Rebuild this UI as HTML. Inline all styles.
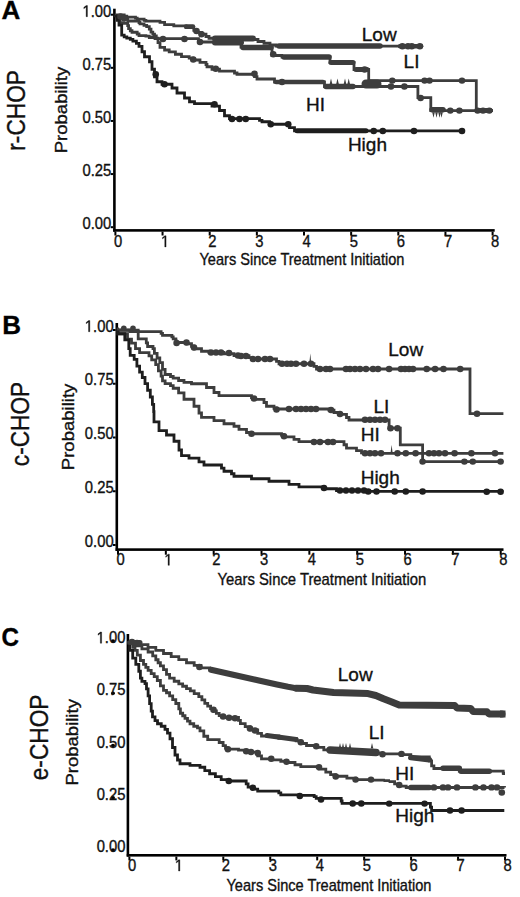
<!DOCTYPE html>
<html><head><meta charset="utf-8"><style>
html,body{margin:0;padding:0;background:#fff;}
svg{display:block;}
text{font-family:"Liberation Sans", sans-serif;stroke:#111;stroke-width:0.35px;}
</style></head><body>
<svg width="520" height="897" viewBox="0 0 520 897">
<rect width="520" height="897" fill="#fff"/>
<rect x="113.10" y="8.70" width="2.60" height="223.00" fill="#000"/>
<rect x="113.25" y="229.10" width="381.45" height="2.60" fill="#000"/>
<rect x="110.70" y="226.20" width="2.55" height="2.00" fill="#000"/>
<text transform="translate(111.20,229.20) scale(0.913,1)" font-size="16.2" text-anchor="end" font-weight="normal" fill="#111">0.00</text>
<rect x="110.70" y="173.07" width="2.55" height="2.00" fill="#000"/>
<text transform="translate(111.20,176.07) scale(0.913,1)" font-size="16.2" text-anchor="end" font-weight="normal" fill="#111">0.25</text>
<rect x="110.70" y="119.95" width="2.55" height="2.00" fill="#000"/>
<text transform="translate(111.20,122.95) scale(0.913,1)" font-size="16.2" text-anchor="end" font-weight="normal" fill="#111">0.50</text>
<rect x="110.70" y="66.82" width="2.55" height="2.00" fill="#000"/>
<text transform="translate(111.20,69.82) scale(0.913,1)" font-size="16.2" text-anchor="end" font-weight="normal" fill="#111">0.75</text>
<rect x="110.70" y="13.70" width="2.55" height="2.00" fill="#000"/>
<text transform="translate(111.20,16.70) scale(0.913,1)" font-size="16.2" text-anchor="end" font-weight="normal" fill="#111">&#8199;.00</text>
<path transform="translate(82.41,16.70) scale(0.00722,-0.00791)" d="M515 0V1237L197 1010V1180L530 1409H696V0Z" fill="#111" stroke="#111" stroke-width="0.35" vector-effect="non-scaling-stroke"/>
<rect x="114.40" y="231.70" width="2.00" height="3.80" fill="#000"/>
<text transform="translate(118.00,246.90) scale(0.913,1)" font-size="16.2" text-anchor="middle" font-weight="normal" fill="#111">0</text>
<rect x="161.55" y="231.70" width="2.00" height="3.80" fill="#000"/>
<path transform="translate(161.04,246.90) scale(0.00722,-0.00791)" d="M515 0V1237L197 1010V1180L530 1409H696V0Z" fill="#111" stroke="#111" stroke-width="0.35" vector-effect="non-scaling-stroke"/>
<rect x="208.70" y="231.70" width="2.00" height="3.80" fill="#000"/>
<text transform="translate(212.30,246.90) scale(0.913,1)" font-size="16.2" text-anchor="middle" font-weight="normal" fill="#111">2</text>
<rect x="255.85" y="231.70" width="2.00" height="3.80" fill="#000"/>
<text transform="translate(259.45,246.90) scale(0.913,1)" font-size="16.2" text-anchor="middle" font-weight="normal" fill="#111">3</text>
<rect x="303.00" y="231.70" width="2.00" height="3.80" fill="#000"/>
<text transform="translate(306.60,246.90) scale(0.913,1)" font-size="16.2" text-anchor="middle" font-weight="normal" fill="#111">4</text>
<rect x="350.15" y="231.70" width="2.00" height="3.80" fill="#000"/>
<text transform="translate(353.75,246.90) scale(0.913,1)" font-size="16.2" text-anchor="middle" font-weight="normal" fill="#111">5</text>
<rect x="397.30" y="231.70" width="2.00" height="3.80" fill="#000"/>
<text transform="translate(400.90,246.90) scale(0.913,1)" font-size="16.2" text-anchor="middle" font-weight="normal" fill="#111">6</text>
<rect x="444.45" y="231.70" width="2.00" height="3.80" fill="#000"/>
<text transform="translate(448.05,246.90) scale(0.913,1)" font-size="16.2" text-anchor="middle" font-weight="normal" fill="#111">7</text>
<rect x="491.60" y="231.70" width="2.00" height="3.80" fill="#000"/>
<text transform="translate(495.20,246.90) scale(0.913,1)" font-size="16.2" text-anchor="middle" font-weight="normal" fill="#111">8</text>
<text transform="translate(199.50,264.90) scale(0.916,1)" font-size="15.9" text-anchor="start" font-weight="normal" fill="#111">Years Since Treatment Initiation</text>
<rect x="115.50" y="323.00" width="2.60" height="227.90" fill="#000"/>
<rect x="115.65" y="548.30" width="387.85" height="2.60" fill="#000"/>
<rect x="113.00" y="544.00" width="2.65" height="2.00" fill="#000"/>
<text transform="translate(113.60,546.70) scale(0.913,1)" font-size="16.2" text-anchor="end" font-weight="normal" fill="#111">0.00</text>
<rect x="113.00" y="490.25" width="2.65" height="2.00" fill="#000"/>
<text transform="translate(113.60,492.95) scale(0.913,1)" font-size="16.2" text-anchor="end" font-weight="normal" fill="#111">0.25</text>
<rect x="113.00" y="436.50" width="2.65" height="2.00" fill="#000"/>
<text transform="translate(113.60,439.20) scale(0.913,1)" font-size="16.2" text-anchor="end" font-weight="normal" fill="#111">0.50</text>
<rect x="113.00" y="382.75" width="2.65" height="2.00" fill="#000"/>
<text transform="translate(113.60,385.45) scale(0.913,1)" font-size="16.2" text-anchor="end" font-weight="normal" fill="#111">0.75</text>
<rect x="113.00" y="329.00" width="2.65" height="2.00" fill="#000"/>
<text transform="translate(113.60,331.70) scale(0.913,1)" font-size="16.2" text-anchor="end" font-weight="normal" fill="#111">&#8199;.00</text>
<path transform="translate(84.81,331.70) scale(0.00722,-0.00791)" d="M515 0V1237L197 1010V1180L530 1409H696V0Z" fill="#111" stroke="#111" stroke-width="0.35" vector-effect="non-scaling-stroke"/>
<rect x="117.00" y="550.90" width="2.00" height="3.80" fill="#000"/>
<text transform="translate(120.60,565.30) scale(0.913,1)" font-size="16.2" text-anchor="middle" font-weight="normal" fill="#111">0</text>
<rect x="164.84" y="550.90" width="2.00" height="3.80" fill="#000"/>
<path transform="translate(164.33,565.30) scale(0.00722,-0.00791)" d="M515 0V1237L197 1010V1180L530 1409H696V0Z" fill="#111" stroke="#111" stroke-width="0.35" vector-effect="non-scaling-stroke"/>
<rect x="212.68" y="550.90" width="2.00" height="3.80" fill="#000"/>
<text transform="translate(216.28,565.30) scale(0.913,1)" font-size="16.2" text-anchor="middle" font-weight="normal" fill="#111">2</text>
<rect x="260.52" y="550.90" width="2.00" height="3.80" fill="#000"/>
<text transform="translate(264.12,565.30) scale(0.913,1)" font-size="16.2" text-anchor="middle" font-weight="normal" fill="#111">3</text>
<rect x="308.36" y="550.90" width="2.00" height="3.80" fill="#000"/>
<text transform="translate(311.96,565.30) scale(0.913,1)" font-size="16.2" text-anchor="middle" font-weight="normal" fill="#111">4</text>
<rect x="356.20" y="550.90" width="2.00" height="3.80" fill="#000"/>
<text transform="translate(359.80,565.30) scale(0.913,1)" font-size="16.2" text-anchor="middle" font-weight="normal" fill="#111">5</text>
<rect x="404.04" y="550.90" width="2.00" height="3.80" fill="#000"/>
<text transform="translate(407.64,565.30) scale(0.913,1)" font-size="16.2" text-anchor="middle" font-weight="normal" fill="#111">6</text>
<rect x="451.88" y="550.90" width="2.00" height="3.80" fill="#000"/>
<text transform="translate(455.48,565.30) scale(0.913,1)" font-size="16.2" text-anchor="middle" font-weight="normal" fill="#111">7</text>
<rect x="499.72" y="550.90" width="2.00" height="3.80" fill="#000"/>
<text transform="translate(503.32,565.30) scale(0.913,1)" font-size="16.2" text-anchor="middle" font-weight="normal" fill="#111">8</text>
<text transform="translate(217.50,585.00) scale(0.933,1)" font-size="15.9" text-anchor="start" font-weight="normal" fill="#111">Years Since Treatment Initiation</text>
<rect x="126.60" y="634.00" width="2.60" height="222.60" fill="#000"/>
<rect x="126.75" y="854.00" width="379.75" height="2.60" fill="#000"/>
<ellipse cx="113.00" cy="850.00" rx="2.0" ry="1.7" fill="#000"/>
<text transform="translate(125.40,852.20) scale(0.913,1)" font-size="16.2" text-anchor="end" font-weight="normal" fill="#111">0.00</text>
<ellipse cx="113.00" cy="797.75" rx="2.0" ry="1.7" fill="#000"/>
<text transform="translate(125.40,799.95) scale(0.913,1)" font-size="16.2" text-anchor="end" font-weight="normal" fill="#111">0.25</text>
<ellipse cx="113.00" cy="745.50" rx="2.0" ry="1.7" fill="#000"/>
<text transform="translate(125.40,747.70) scale(0.913,1)" font-size="16.2" text-anchor="end" font-weight="normal" fill="#111">0.50</text>
<ellipse cx="113.00" cy="693.25" rx="2.0" ry="1.7" fill="#000"/>
<text transform="translate(125.40,695.45) scale(0.913,1)" font-size="16.2" text-anchor="end" font-weight="normal" fill="#111">0.75</text>
<ellipse cx="113.00" cy="641.00" rx="2.0" ry="1.7" fill="#000"/>
<text transform="translate(125.40,643.20) scale(0.913,1)" font-size="16.2" text-anchor="end" font-weight="normal" fill="#111">&#8199;.00</text>
<path transform="translate(96.61,643.20) scale(0.00722,-0.00791)" d="M515 0V1237L197 1010V1180L530 1409H696V0Z" fill="#111" stroke="#111" stroke-width="0.35" vector-effect="non-scaling-stroke"/>
<rect x="128.40" y="856.60" width="2.00" height="3.80" fill="#000"/>
<text transform="translate(132.00,871.00) scale(0.913,1)" font-size="16.2" text-anchor="middle" font-weight="normal" fill="#111">0</text>
<rect x="175.35" y="856.60" width="2.00" height="3.80" fill="#000"/>
<path transform="translate(174.84,871.00) scale(0.00722,-0.00791)" d="M515 0V1237L197 1010V1180L530 1409H696V0Z" fill="#111" stroke="#111" stroke-width="0.35" vector-effect="non-scaling-stroke"/>
<rect x="222.30" y="856.60" width="2.00" height="3.80" fill="#000"/>
<text transform="translate(225.90,871.00) scale(0.913,1)" font-size="16.2" text-anchor="middle" font-weight="normal" fill="#111">2</text>
<rect x="269.25" y="856.60" width="2.00" height="3.80" fill="#000"/>
<text transform="translate(272.85,871.00) scale(0.913,1)" font-size="16.2" text-anchor="middle" font-weight="normal" fill="#111">3</text>
<rect x="316.20" y="856.60" width="2.00" height="3.80" fill="#000"/>
<text transform="translate(319.80,871.00) scale(0.913,1)" font-size="16.2" text-anchor="middle" font-weight="normal" fill="#111">4</text>
<rect x="363.15" y="856.60" width="2.00" height="3.80" fill="#000"/>
<text transform="translate(366.75,871.00) scale(0.913,1)" font-size="16.2" text-anchor="middle" font-weight="normal" fill="#111">5</text>
<rect x="410.10" y="856.60" width="2.00" height="3.80" fill="#000"/>
<text transform="translate(413.70,871.00) scale(0.913,1)" font-size="16.2" text-anchor="middle" font-weight="normal" fill="#111">6</text>
<rect x="457.05" y="856.60" width="2.00" height="3.80" fill="#000"/>
<text transform="translate(460.65,871.00) scale(0.913,1)" font-size="16.2" text-anchor="middle" font-weight="normal" fill="#111">7</text>
<rect x="504.00" y="856.60" width="2.00" height="3.80" fill="#000"/>
<text transform="translate(507.60,871.00) scale(0.913,1)" font-size="16.2" text-anchor="middle" font-weight="normal" fill="#111">8</text>
<text transform="translate(226.50,891.00) scale(0.916,1)" font-size="15.9" text-anchor="start" font-weight="normal" fill="#111">Years Since Treatment Initiation</text>
<text transform="translate(1.50,18.75)" font-size="26" text-anchor="start" font-weight="bold" fill="#000">A</text>
<text transform="translate(2.20,334.20)" font-size="26" text-anchor="start" font-weight="bold" fill="#000">B</text>
<text transform="translate(1.40,645.60) scale(0.930,1)" font-size="26" text-anchor="start" font-weight="bold" fill="#000">C</text>
<text transform="translate(25.10,150.70) rotate(-90) scale(0.857,1)" font-size="26.5" text-anchor="start" font-weight="normal" fill="#111">r-CHOP</text>
<text transform="translate(28.90,466.20) rotate(-90) scale(0.857,1)" font-size="26.5" text-anchor="start" font-weight="normal" fill="#111">c-CHOP</text>
<text transform="translate(47.80,780.30) rotate(-90) scale(0.857,1)" font-size="26.5" text-anchor="start" font-weight="normal" fill="#111">e-CHOP</text>
<text transform="translate(66.70,153.30) rotate(-90) scale(1.065,1)" font-size="17.4" text-anchor="start" font-weight="normal" fill="#111">Probability</text>
<text transform="translate(73.90,470.20) rotate(-90) scale(1.065,1)" font-size="17.4" text-anchor="start" font-weight="normal" fill="#111">Probability</text>
<text transform="translate(78.10,785.60) rotate(-90) scale(1.065,1)" font-size="17.4" text-anchor="start" font-weight="normal" fill="#111">Probability</text>
<text transform="translate(361.78,40.80)" font-size="19.0" text-anchor="start" font-weight="normal" fill="#111">Low</text>
<text transform="translate(403.58,68.30)" font-size="19.0" text-anchor="start" font-weight="normal" fill="#111">LI</text>
<text transform="translate(306.08,111.20)" font-size="19.0" text-anchor="start" font-weight="normal" fill="#111">HI</text>
<text transform="translate(347.88,150.60)" font-size="19.0" text-anchor="start" font-weight="normal" fill="#111">High</text>
<text transform="translate(388.28,355.60)" font-size="19.0" text-anchor="start" font-weight="normal" fill="#111">Low</text>
<text transform="translate(373.48,412.50)" font-size="19.0" text-anchor="start" font-weight="normal" fill="#111">LI</text>
<text transform="translate(360.68,441.00)" font-size="19.0" text-anchor="start" font-weight="normal" fill="#111">HI</text>
<text transform="translate(360.68,484.00)" font-size="19.0" text-anchor="start" font-weight="normal" fill="#111">High</text>
<text transform="translate(337.78,680.80)" font-size="19.0" text-anchor="start" font-weight="normal" fill="#111">Low</text>
<text transform="translate(368.68,739.00)" font-size="19.0" text-anchor="start" font-weight="normal" fill="#111">LI</text>
<text transform="translate(395.28,780.00)" font-size="19.0" text-anchor="start" font-weight="normal" fill="#111">HI</text>
<text transform="translate(395.28,822.00)" font-size="19.0" text-anchor="start" font-weight="normal" fill="#111">High</text>
<polyline points="116.00,15.00 116.00,14.90 116.50,14.90 116.50,14.80 116.50,15.00 124.20,15.00 124.20,15.20 124.20,16.05 126.80,16.05 126.80,16.90 126.80,17.15 135.50,17.15 135.50,17.40 135.50,18.05 137.20,18.05 137.20,18.70 137.20,19.10 144.10,19.10 144.10,19.50 144.10,20.35 145.90,20.35 145.90,21.20 160.00,21.20 160.00,22.35 164.60,22.35 164.60,23.50 164.60,24.65 173.80,24.65 173.80,25.80 186.00,25.80 186.00,27.70 193.80,27.70 193.80,29.60 193.80,30.40 196.90,30.40 196.90,31.20 196.90,32.35 201.50,32.35 201.50,33.50 201.50,34.25 206.00,34.25 206.00,35.00 206.00,36.50 209.00,36.50 209.00,38.00 209.00,38.25 253.00,38.25 253.00,38.50 253.00,39.50 258.00,39.50 258.00,40.50 258.00,41.50 264.00,41.50 264.00,42.50 264.00,43.25 270.00,43.25 270.00,44.00 270.00,45.00 276.00,45.00 276.00,46.00 276.00,46.10 421.70,46.10 421.70,46.20" fill="none" stroke="#3d3d3d" stroke-width="2.8" stroke-linejoin="miter" stroke-linecap="butt"/>
<ellipse cx="196.50" cy="31.00" rx="3.3" ry="3.2" fill="#3d3d3d"/>
<ellipse cx="201.50" cy="34.20" rx="3.3" ry="3.2" fill="#3d3d3d"/>
<ellipse cx="402.40" cy="46.20" rx="3.3" ry="3.2" fill="#3d3d3d"/>
<ellipse cx="408.00" cy="46.20" rx="3.3" ry="3.2" fill="#3d3d3d"/>
<ellipse cx="411.80" cy="46.20" rx="3.3" ry="3.2" fill="#3d3d3d"/>
<ellipse cx="419.90" cy="46.20" rx="3.3" ry="3.2" fill="#3d3d3d"/>
<polyline points="116.00,15.00 116.00,15.95 117.30,15.95 117.30,16.90 117.30,19.50 119.90,19.50 119.90,22.10 119.90,22.55 124.20,22.55 124.20,23.00 124.20,23.40 127.70,23.40 127.70,23.80 127.70,25.55 128.60,25.55 128.60,27.30 128.60,28.60 130.30,28.60 130.30,29.90 130.30,30.75 132.00,30.75 132.00,31.60 132.00,32.25 137.20,32.25 137.20,32.90 137.20,34.00 139.00,34.00 139.00,35.10 139.00,35.55 145.90,35.55 145.90,36.00 145.90,36.20 149.30,36.20 149.30,36.40 149.30,37.50 155.00,37.50 155.00,38.60 155.00,38.70 198.50,38.70 198.50,38.80 198.50,40.40 200.00,40.40 200.00,42.00 241.00,42.00 241.00,47.00 272.00,47.00 272.00,54.00 272.00,55.50 282.00,55.50 282.00,57.00 330.00,57.00 330.00,62.50 354.00,62.50 354.00,69.50 368.70,69.50 368.70,80.60 476.30,80.60 476.30,110.60 493.00,110.60" fill="none" stroke="#3d3d3d" stroke-width="2.8" stroke-linejoin="miter" stroke-linecap="butt"/>
<ellipse cx="163.00" cy="39.00" rx="3.3" ry="3.2" fill="#3d3d3d"/>
<ellipse cx="184.50" cy="39.00" rx="3.3" ry="3.2" fill="#3d3d3d"/>
<ellipse cx="200.00" cy="42.00" rx="3.3" ry="3.2" fill="#3d3d3d"/>
<ellipse cx="273.25" cy="54.25" rx="3.3" ry="3.2" fill="#3d3d3d"/>
<ellipse cx="364.60" cy="69.50" rx="3.3" ry="3.2" fill="#3d3d3d"/>
<ellipse cx="392.30" cy="80.60" rx="3.3" ry="3.2" fill="#3d3d3d"/>
<ellipse cx="424.60" cy="80.60" rx="3.3" ry="3.2" fill="#3d3d3d"/>
<ellipse cx="429.50" cy="80.60" rx="3.3" ry="3.2" fill="#3d3d3d"/>
<ellipse cx="462.00" cy="80.60" rx="3.3" ry="3.2" fill="#3d3d3d"/>
<ellipse cx="477.60" cy="110.60" rx="3.3" ry="3.2" fill="#3d3d3d"/>
<ellipse cx="483.00" cy="110.60" rx="3.3" ry="3.2" fill="#3d3d3d"/>
<ellipse cx="489.30" cy="110.60" rx="3.3" ry="3.2" fill="#3d3d3d"/>
<polyline points="116.00,15.00 116.00,15.50 116.50,15.50 116.50,16.00 116.50,17.35 126.00,17.35 126.00,18.70 126.00,19.35 127.70,19.35 127.70,20.00 127.70,21.00 139.00,21.00 139.00,22.00 139.00,22.50 140.00,22.50 140.00,23.00 140.00,23.85 144.00,23.85 144.00,24.70 144.00,25.35 146.70,25.35 146.70,26.00 146.70,26.65 149.30,26.65 149.30,27.30 149.30,29.05 151.00,29.05 151.00,30.80 151.00,32.10 152.80,32.10 152.80,33.40 152.80,34.25 154.50,34.25 154.50,35.10 154.50,35.95 156.30,35.95 156.30,36.80 156.30,38.10 158.00,38.10 158.00,39.40 158.00,42.60 160.00,42.60 160.00,45.80 160.00,47.30 164.60,47.30 164.60,48.80 164.60,50.00 169.20,50.00 169.20,51.20 169.20,51.95 175.40,51.95 175.40,52.70 175.40,54.25 181.50,54.25 181.50,55.80 181.50,56.55 189.20,56.55 189.20,57.30 189.20,58.05 193.00,58.05 193.00,58.80 193.00,60.00 200.00,60.00 200.00,61.20 200.00,62.35 206.00,62.35 206.00,63.50 206.00,64.50 207.00,64.50 207.00,65.50 207.00,66.75 212.00,66.75 212.00,68.00 212.00,69.25 219.50,69.25 219.50,70.50 219.50,71.12 234.50,71.12 234.50,71.75 234.50,73.00 237.00,73.00 237.00,74.25 254.50,74.25 254.50,76.62 257.00,76.62 257.00,79.00 274.50,79.00 274.50,82.00 324.50,82.00 324.50,86.50 417.90,86.50 417.90,97.60 430.80,97.60 430.80,110.60 493.00,110.60" fill="none" stroke="#3d3d3d" stroke-width="2.8" stroke-linejoin="miter" stroke-linecap="butt"/>
<ellipse cx="193.25" cy="59.50" rx="3.3" ry="3.2" fill="#3d3d3d"/>
<ellipse cx="215.75" cy="68.75" rx="3.3" ry="3.2" fill="#3d3d3d"/>
<ellipse cx="254.50" cy="73.80" rx="3.3" ry="3.2" fill="#3d3d3d"/>
<ellipse cx="282.00" cy="82.00" rx="3.3" ry="3.2" fill="#3d3d3d"/>
<ellipse cx="391.00" cy="86.50" rx="3.3" ry="3.2" fill="#3d3d3d"/>
<ellipse cx="404.40" cy="86.50" rx="3.3" ry="3.2" fill="#3d3d3d"/>
<ellipse cx="420.60" cy="98.00" rx="3.3" ry="3.2" fill="#3d3d3d"/>
<ellipse cx="450.30" cy="110.60" rx="3.3" ry="3.2" fill="#3d3d3d"/>
<ellipse cx="459.40" cy="110.60" rx="3.3" ry="3.2" fill="#3d3d3d"/>
<polyline points="116.00,15.00 116.00,15.95 117.30,15.95 117.30,16.90 117.30,20.35 119.00,20.35 119.00,23.80 119.00,25.10 121.70,25.10 121.70,26.40 121.70,34.20 121.70,35.10 124.20,35.10 124.20,36.00 124.20,36.85 126.80,36.85 126.80,37.70 126.80,38.10 130.30,38.10 130.30,38.50 130.30,39.40 132.90,39.40 132.90,40.30 132.90,41.15 136.40,41.15 136.40,42.00 136.40,43.30 139.00,43.30 139.00,44.60 139.00,46.30 142.00,46.30 142.00,48.00 142.00,51.75 144.50,51.75 144.50,55.50 144.50,56.75 149.50,56.75 149.50,58.00 149.50,61.75 152.00,61.75 152.00,65.50 152.00,69.25 154.50,69.25 154.50,73.00 154.50,76.75 157.00,76.75 157.00,80.50 157.00,81.75 162.00,81.75 162.00,83.00 162.00,84.25 172.00,84.25 172.00,85.50 172.00,88.00 177.00,88.00 177.00,90.50 177.00,93.00 184.50,93.00 184.50,95.50 184.50,98.00 189.50,98.00 189.50,100.50 189.50,101.75 194.50,101.75 194.50,103.00 194.50,103.62 212.00,103.62 212.00,104.25 212.00,106.12 219.50,106.12 219.50,108.00 219.50,110.50 224.50,110.50 224.50,113.00 224.50,115.75 229.50,115.75 229.50,118.50 229.50,118.65 259.50,118.65 259.50,118.80 259.50,120.28 262.00,120.28 262.00,121.75 269.50,121.75 269.50,123.00 270.00,123.00 270.00,124.25 289.50,124.25 289.50,127.53 294.50,127.53 294.50,130.80 294.50,130.90 462.00,130.90 462.00,131.00" fill="none" stroke="#1e1e1e" stroke-width="2.8" stroke-linejoin="miter" stroke-linecap="butt"/>
<ellipse cx="155.75" cy="74.25" rx="3.3" ry="3.2" fill="#1e1e1e"/>
<ellipse cx="164.50" cy="84.25" rx="3.3" ry="3.2" fill="#1e1e1e"/>
<ellipse cx="214.50" cy="104.25" rx="3.3" ry="3.2" fill="#1e1e1e"/>
<ellipse cx="232.00" cy="119.00" rx="3.3" ry="3.2" fill="#1e1e1e"/>
<ellipse cx="239.50" cy="119.00" rx="3.3" ry="3.2" fill="#1e1e1e"/>
<ellipse cx="245.75" cy="119.00" rx="3.3" ry="3.2" fill="#1e1e1e"/>
<ellipse cx="270.75" cy="124.20" rx="3.3" ry="3.2" fill="#1e1e1e"/>
<ellipse cx="288.25" cy="124.25" rx="3.3" ry="3.2" fill="#1e1e1e"/>
<ellipse cx="373.70" cy="131.00" rx="3.3" ry="3.2" fill="#1e1e1e"/>
<ellipse cx="382.80" cy="131.00" rx="3.3" ry="3.2" fill="#1e1e1e"/>
<ellipse cx="414.00" cy="131.00" rx="3.3" ry="3.2" fill="#1e1e1e"/>
<ellipse cx="462.00" cy="131.00" rx="3.3" ry="3.2" fill="#1e1e1e"/>
<line x1="186.00" y1="26.50" x2="193.00" y2="26.50" stroke="#3d3d3d" stroke-width="4.5" stroke-linecap="round"/>
<line x1="215.00" y1="38.50" x2="253.00" y2="38.50" stroke="#3d3d3d" stroke-width="6.0" stroke-linecap="round"/>
<line x1="215.00" y1="42.50" x2="241.00" y2="42.50" stroke="#3d3d3d" stroke-width="6.0" stroke-linecap="round"/>
<line x1="243.00" y1="47.50" x2="271.00" y2="47.50" stroke="#3d3d3d" stroke-width="5.5" stroke-linecap="round"/>
<line x1="279.00" y1="46.00" x2="380.00" y2="46.00" stroke="#3d3d3d" stroke-width="5.5" stroke-linecap="round"/>
<line x1="400.00" y1="46.20" x2="421.00" y2="46.20" stroke="#3d3d3d" stroke-width="4.5" stroke-linecap="round"/>
<line x1="284.00" y1="57.00" x2="329.00" y2="57.00" stroke="#3d3d3d" stroke-width="5.5" stroke-linecap="round"/>
<line x1="331.00" y1="62.50" x2="353.00" y2="62.50" stroke="#3d3d3d" stroke-width="5.0" stroke-linecap="round"/>
<line x1="356.00" y1="69.50" x2="367.00" y2="69.50" stroke="#3d3d3d" stroke-width="5.0" stroke-linecap="round"/>
<line x1="276.00" y1="82.00" x2="323.00" y2="82.00" stroke="#3d3d3d" stroke-width="4.5" stroke-linecap="round"/>
<line x1="326.00" y1="86.50" x2="353.00" y2="86.50" stroke="#3d3d3d" stroke-width="5.5" stroke-linecap="round"/>
<line x1="366.00" y1="84.00" x2="377.00" y2="84.00" stroke="#3d3d3d" stroke-width="9.0" stroke-linecap="round"/>
<polygon points="329.70,84.00 331.00,78.50 332.30,84.00" fill="#3d3d3d"/>
<polygon points="336.20,84.00 337.50,78.50 338.80,84.00" fill="#3d3d3d"/>
<polygon points="343.70,84.00 345.00,78.50 346.30,84.00" fill="#3d3d3d"/>
<polygon points="347.40,84.00 348.70,78.50 350.00,84.00" fill="#3d3d3d"/>
<line x1="432.00" y1="109.80" x2="443.00" y2="109.80" stroke="#3d3d3d" stroke-width="5.5" stroke-linecap="round"/>
<polygon points="432.20,112.30 433.50,117.80 434.80,112.30" fill="#3d3d3d"/>
<polygon points="435.20,112.30 436.50,117.80 437.80,112.30" fill="#3d3d3d"/>
<polygon points="438.20,112.30 439.50,117.80 440.80,112.30" fill="#3d3d3d"/>
<polygon points="440.20,112.30 441.50,117.80 442.80,112.30" fill="#3d3d3d"/>
<line x1="479.00" y1="110.60" x2="490.00" y2="110.60" stroke="#3d3d3d" stroke-width="5.0" stroke-linecap="round"/>
<line x1="297.00" y1="130.80" x2="366.00" y2="130.80" stroke="#1e1e1e" stroke-width="5.0" stroke-linecap="round"/>
<polyline points="118.00,329.00 118.00,328.88 119.00,328.88 119.00,328.75 119.00,330.23 138.20,330.23 138.20,331.70 161.10,331.70 161.10,333.40 162.50,333.40 162.50,335.10 162.50,335.45 171.90,335.45 171.90,335.80 171.90,336.80 173.20,336.80 173.20,337.80 173.20,338.80 175.90,338.80 175.90,339.80 175.90,341.15 176.60,341.15 176.60,342.50 186.50,342.50 186.50,343.75 191.50,343.75 191.50,345.00 191.50,346.25 194.00,346.25 194.00,347.50 194.00,348.75 201.50,348.75 201.50,350.00 201.50,351.25 209.00,351.25 209.00,352.50 224.00,352.50 224.00,353.75 234.00,353.75 234.00,355.00 234.00,355.62 249.00,355.62 249.00,356.25 249.00,357.62 251.50,357.62 251.50,359.00 276.50,359.00 276.50,361.38 279.00,361.38 279.00,363.75 314.00,363.75 314.00,366.38 316.50,366.38 316.50,369.00 470.00,369.00 470.00,413.70 503.40,413.70" fill="none" stroke="#3d3d3d" stroke-width="2.8" stroke-linejoin="miter" stroke-linecap="butt"/>
<ellipse cx="176.60" cy="343.00" rx="3.3" ry="3.2" fill="#3d3d3d"/>
<ellipse cx="186.50" cy="342.50" rx="3.3" ry="3.2" fill="#3d3d3d"/>
<ellipse cx="194.00" cy="347.50" rx="3.3" ry="3.2" fill="#3d3d3d"/>
<ellipse cx="211.00" cy="352.50" rx="3.3" ry="3.2" fill="#3d3d3d"/>
<ellipse cx="216.00" cy="352.50" rx="3.3" ry="3.2" fill="#3d3d3d"/>
<ellipse cx="221.00" cy="352.50" rx="3.3" ry="3.2" fill="#3d3d3d"/>
<ellipse cx="229.00" cy="353.00" rx="3.3" ry="3.2" fill="#3d3d3d"/>
<ellipse cx="238.00" cy="355.50" rx="3.3" ry="3.2" fill="#3d3d3d"/>
<ellipse cx="241.00" cy="356.00" rx="3.3" ry="3.2" fill="#3d3d3d"/>
<ellipse cx="246.00" cy="356.00" rx="3.3" ry="3.2" fill="#3d3d3d"/>
<ellipse cx="253.00" cy="359.00" rx="3.3" ry="3.2" fill="#3d3d3d"/>
<ellipse cx="258.00" cy="359.00" rx="3.3" ry="3.2" fill="#3d3d3d"/>
<ellipse cx="265.00" cy="359.00" rx="3.3" ry="3.2" fill="#3d3d3d"/>
<ellipse cx="270.00" cy="359.00" rx="3.3" ry="3.2" fill="#3d3d3d"/>
<ellipse cx="282.00" cy="363.70" rx="3.3" ry="3.2" fill="#3d3d3d"/>
<ellipse cx="287.00" cy="363.70" rx="3.3" ry="3.2" fill="#3d3d3d"/>
<ellipse cx="291.00" cy="363.70" rx="3.3" ry="3.2" fill="#3d3d3d"/>
<ellipse cx="296.00" cy="363.70" rx="3.3" ry="3.2" fill="#3d3d3d"/>
<ellipse cx="304.00" cy="363.70" rx="3.3" ry="3.2" fill="#3d3d3d"/>
<ellipse cx="311.00" cy="363.70" rx="3.3" ry="3.2" fill="#3d3d3d"/>
<ellipse cx="320.00" cy="369.00" rx="3.3" ry="3.2" fill="#3d3d3d"/>
<ellipse cx="326.00" cy="369.00" rx="3.3" ry="3.2" fill="#3d3d3d"/>
<ellipse cx="330.00" cy="369.00" rx="3.3" ry="3.2" fill="#3d3d3d"/>
<ellipse cx="346.00" cy="369.00" rx="3.3" ry="3.2" fill="#3d3d3d"/>
<ellipse cx="350.00" cy="369.00" rx="3.3" ry="3.2" fill="#3d3d3d"/>
<ellipse cx="355.00" cy="369.00" rx="3.3" ry="3.2" fill="#3d3d3d"/>
<ellipse cx="360.00" cy="369.00" rx="3.3" ry="3.2" fill="#3d3d3d"/>
<ellipse cx="366.00" cy="369.00" rx="3.3" ry="3.2" fill="#3d3d3d"/>
<ellipse cx="373.00" cy="369.00" rx="3.3" ry="3.2" fill="#3d3d3d"/>
<ellipse cx="378.00" cy="369.00" rx="3.3" ry="3.2" fill="#3d3d3d"/>
<ellipse cx="389.10" cy="369.00" rx="3.3" ry="3.2" fill="#3d3d3d"/>
<ellipse cx="401.00" cy="369.00" rx="3.3" ry="3.2" fill="#3d3d3d"/>
<ellipse cx="405.00" cy="369.00" rx="3.3" ry="3.2" fill="#3d3d3d"/>
<ellipse cx="409.00" cy="369.00" rx="3.3" ry="3.2" fill="#3d3d3d"/>
<ellipse cx="413.00" cy="369.00" rx="3.3" ry="3.2" fill="#3d3d3d"/>
<ellipse cx="426.70" cy="369.00" rx="3.3" ry="3.2" fill="#3d3d3d"/>
<ellipse cx="435.10" cy="369.00" rx="3.3" ry="3.2" fill="#3d3d3d"/>
<ellipse cx="443.50" cy="369.00" rx="3.3" ry="3.2" fill="#3d3d3d"/>
<ellipse cx="460.20" cy="369.00" rx="3.3" ry="3.2" fill="#3d3d3d"/>
<ellipse cx="477.00" cy="413.70" rx="3.3" ry="3.2" fill="#3d3d3d"/>
<polyline points="118.00,329.00 118.00,330.00 130.00,330.00 130.00,331.00 130.00,331.50 138.20,331.50 138.20,332.00 138.20,338.50 138.20,338.80 146.30,338.80 146.30,339.10 146.30,342.80 147.60,342.80 147.60,346.50 153.00,346.50 153.00,348.55 154.40,348.55 154.40,350.60 154.40,353.30 157.10,353.30 157.10,356.00 157.10,358.00 159.80,358.00 159.80,360.00 159.80,362.70 162.50,362.70 162.50,365.40 162.50,369.45 165.10,369.45 165.10,373.50 165.10,374.50 170.50,374.50 170.50,375.50 170.50,376.50 173.20,376.50 173.20,377.50 173.20,378.15 178.60,378.15 178.60,378.80 178.60,380.50 184.00,380.50 184.00,382.20 184.00,382.35 191.50,382.35 191.50,382.50 191.50,383.75 206.50,383.75 206.50,385.00 206.50,387.50 214.00,387.50 214.00,390.00 214.00,392.50 219.00,392.50 219.00,395.00 219.00,395.62 251.50,395.62 251.50,396.25 251.50,397.50 254.00,397.50 254.00,398.75 254.00,399.38 264.00,399.38 264.00,400.00 264.00,402.50 266.50,402.50 266.50,405.00 266.50,406.25 274.00,406.25 274.00,407.50 274.00,408.25 276.50,408.25 276.50,409.00 329.00,409.00 329.00,410.12 334.00,410.12 334.00,411.25 334.00,412.50 339.00,412.50 339.00,413.75 339.00,414.38 346.50,414.38 346.50,415.00 346.50,417.50 349.00,417.50 349.00,420.00 389.10,420.00 389.10,428.20 400.30,428.20 400.30,444.90 422.60,444.90 422.60,461.60 500.60,461.60" fill="none" stroke="#3d3d3d" stroke-width="2.8" stroke-linejoin="miter" stroke-linecap="butt"/>
<ellipse cx="254.00" cy="398.50" rx="3.3" ry="3.2" fill="#3d3d3d"/>
<ellipse cx="276.50" cy="409.50" rx="3.3" ry="3.2" fill="#3d3d3d"/>
<ellipse cx="289.00" cy="409.00" rx="3.3" ry="3.2" fill="#3d3d3d"/>
<ellipse cx="296.00" cy="409.00" rx="3.3" ry="3.2" fill="#3d3d3d"/>
<ellipse cx="301.00" cy="409.00" rx="3.3" ry="3.2" fill="#3d3d3d"/>
<ellipse cx="306.00" cy="409.00" rx="3.3" ry="3.2" fill="#3d3d3d"/>
<ellipse cx="311.00" cy="409.00" rx="3.3" ry="3.2" fill="#3d3d3d"/>
<ellipse cx="316.00" cy="409.00" rx="3.3" ry="3.2" fill="#3d3d3d"/>
<ellipse cx="331.00" cy="410.00" rx="3.3" ry="3.2" fill="#3d3d3d"/>
<ellipse cx="340.00" cy="414.00" rx="3.3" ry="3.2" fill="#3d3d3d"/>
<ellipse cx="365.00" cy="419.80" rx="3.3" ry="3.2" fill="#3d3d3d"/>
<ellipse cx="370.00" cy="419.80" rx="3.3" ry="3.2" fill="#3d3d3d"/>
<ellipse cx="375.00" cy="419.80" rx="3.3" ry="3.2" fill="#3d3d3d"/>
<ellipse cx="380.00" cy="419.80" rx="3.3" ry="3.2" fill="#3d3d3d"/>
<ellipse cx="385.00" cy="419.80" rx="3.3" ry="3.2" fill="#3d3d3d"/>
<ellipse cx="390.50" cy="428.20" rx="3.3" ry="3.2" fill="#3d3d3d"/>
<ellipse cx="397.50" cy="428.20" rx="3.3" ry="3.2" fill="#3d3d3d"/>
<ellipse cx="422.60" cy="461.60" rx="3.3" ry="3.2" fill="#3d3d3d"/>
<ellipse cx="464.40" cy="461.60" rx="3.3" ry="3.2" fill="#3d3d3d"/>
<ellipse cx="472.80" cy="461.60" rx="3.3" ry="3.2" fill="#3d3d3d"/>
<ellipse cx="500.60" cy="461.60" rx="3.3" ry="3.2" fill="#3d3d3d"/>
<polyline points="118.00,330.40 118.00,333.75 127.50,333.75 127.50,337.10 127.50,339.15 131.50,339.15 131.50,341.20 131.50,343.20 135.50,343.20 135.50,345.20 135.50,348.55 139.60,348.55 139.60,351.90 139.60,352.60 149.00,352.60 149.00,353.30 149.00,355.95 151.70,355.95 151.70,358.60 151.70,359.95 155.70,359.95 155.70,361.30 155.70,364.70 158.40,364.70 158.40,368.10 158.40,370.80 161.10,370.80 161.10,373.50 161.10,376.15 162.50,376.15 162.50,378.80 162.50,380.85 165.10,380.85 165.10,382.90 165.10,383.55 170.50,383.55 170.50,384.20 170.50,385.55 173.20,385.55 173.20,386.90 173.20,388.25 178.60,388.25 178.60,389.60 178.60,392.80 184.00,392.80 184.00,396.00 184.00,399.25 194.00,399.25 194.00,402.50 194.00,406.25 199.00,406.25 199.00,410.00 199.00,413.00 201.50,413.00 201.50,416.00 201.50,417.38 214.00,417.38 214.00,418.75 214.00,420.62 224.00,420.62 224.00,422.50 224.00,423.75 234.00,423.75 234.00,425.00 234.00,426.25 239.00,426.25 239.00,427.50 239.00,429.38 246.50,429.38 246.50,431.25 246.50,432.50 251.50,432.50 251.50,433.75 281.50,433.75 281.50,435.00 284.00,435.00 284.00,436.25 284.00,436.88 294.00,436.88 294.00,437.50 294.00,439.38 299.00,439.38 299.00,441.25 299.00,441.62 344.00,441.62 344.00,442.00 344.00,444.75 346.50,444.75 346.50,447.50 346.50,448.12 356.50,448.12 356.50,448.75 356.50,450.62 361.50,450.62 361.50,452.50 361.50,452.90 369.00,452.90 369.00,453.30 503.40,453.30" fill="none" stroke="#3d3d3d" stroke-width="2.8" stroke-linejoin="miter" stroke-linecap="butt"/>
<ellipse cx="251.50" cy="433.75" rx="3.3" ry="3.2" fill="#3d3d3d"/>
<ellipse cx="284.00" cy="436.25" rx="3.3" ry="3.2" fill="#3d3d3d"/>
<ellipse cx="314.00" cy="442.00" rx="3.3" ry="3.2" fill="#3d3d3d"/>
<ellipse cx="320.00" cy="442.00" rx="3.3" ry="3.2" fill="#3d3d3d"/>
<ellipse cx="328.00" cy="442.00" rx="3.3" ry="3.2" fill="#3d3d3d"/>
<ellipse cx="333.00" cy="442.00" rx="3.3" ry="3.2" fill="#3d3d3d"/>
<ellipse cx="365.00" cy="453.30" rx="3.3" ry="3.2" fill="#3d3d3d"/>
<ellipse cx="370.00" cy="453.30" rx="3.3" ry="3.2" fill="#3d3d3d"/>
<ellipse cx="375.00" cy="453.30" rx="3.3" ry="3.2" fill="#3d3d3d"/>
<ellipse cx="381.00" cy="453.30" rx="3.3" ry="3.2" fill="#3d3d3d"/>
<ellipse cx="397.50" cy="453.30" rx="3.3" ry="3.2" fill="#3d3d3d"/>
<ellipse cx="405.80" cy="453.30" rx="3.3" ry="3.2" fill="#3d3d3d"/>
<ellipse cx="415.60" cy="453.30" rx="3.3" ry="3.2" fill="#3d3d3d"/>
<ellipse cx="429.00" cy="453.30" rx="3.3" ry="3.2" fill="#3d3d3d"/>
<ellipse cx="434.00" cy="453.30" rx="3.3" ry="3.2" fill="#3d3d3d"/>
<ellipse cx="439.00" cy="453.30" rx="3.3" ry="3.2" fill="#3d3d3d"/>
<ellipse cx="445.00" cy="453.30" rx="3.3" ry="3.2" fill="#3d3d3d"/>
<ellipse cx="454.60" cy="453.30" rx="3.3" ry="3.2" fill="#3d3d3d"/>
<ellipse cx="471.40" cy="453.30" rx="3.3" ry="3.2" fill="#3d3d3d"/>
<ellipse cx="495.00" cy="453.30" rx="3.3" ry="3.2" fill="#3d3d3d"/>
<polyline points="118.00,330.40 118.00,333.75 124.80,333.75 124.80,337.10 124.80,339.80 128.80,339.80 128.80,342.50 128.80,348.55 130.20,348.55 130.20,354.60 130.20,355.30 134.20,355.30 134.20,356.00 134.20,359.35 136.90,359.35 136.90,362.70 136.90,366.05 139.60,366.05 139.60,369.40 139.60,372.10 142.30,372.10 142.30,374.80 142.30,377.50 145.00,377.50 145.00,380.20 145.00,383.55 147.60,383.55 147.60,386.90 147.60,390.25 150.30,390.25 150.30,393.60 150.30,397.00 152.40,397.00 152.40,400.40 152.40,404.40 153.70,404.40 153.70,408.40 153.70,411.70 154.00,411.70 154.00,415.00 154.00,421.88 159.00,421.88 159.00,428.75 159.00,430.62 166.50,430.62 166.50,432.50 166.50,435.00 174.00,435.00 174.00,437.50 174.00,441.25 179.00,441.25 179.00,445.00 179.00,450.00 181.50,450.00 181.50,455.00 181.50,455.62 189.00,455.62 189.00,456.25 189.00,458.12 199.00,458.12 199.00,460.00 199.00,461.88 204.00,461.88 204.00,463.75 204.00,465.00 221.50,465.00 221.50,466.25 221.50,468.12 224.00,468.12 224.00,470.00 224.00,471.25 231.50,471.25 231.50,472.50 231.50,473.75 234.00,473.75 234.00,475.00 234.00,476.25 251.50,476.25 251.50,477.50 251.50,478.75 269.00,478.75 269.00,480.00 269.00,481.25 289.00,481.25 289.00,482.50 289.00,484.38 299.00,484.38 299.00,486.25 299.00,486.88 324.00,486.88 324.00,487.50 324.00,488.75 336.50,488.75 336.50,490.00 336.50,490.50 369.00,490.50 369.00,491.00 369.00,491.40 502.00,491.40 502.00,491.80" fill="none" stroke="#1e1e1e" stroke-width="2.8" stroke-linejoin="miter" stroke-linecap="butt"/>
<ellipse cx="324.00" cy="488.00" rx="3.3" ry="3.2" fill="#1e1e1e"/>
<ellipse cx="340.00" cy="490.50" rx="3.3" ry="3.2" fill="#1e1e1e"/>
<ellipse cx="346.00" cy="490.50" rx="3.3" ry="3.2" fill="#1e1e1e"/>
<ellipse cx="352.00" cy="490.50" rx="3.3" ry="3.2" fill="#1e1e1e"/>
<ellipse cx="358.00" cy="490.50" rx="3.3" ry="3.2" fill="#1e1e1e"/>
<ellipse cx="364.00" cy="490.50" rx="3.3" ry="3.2" fill="#1e1e1e"/>
<ellipse cx="368.20" cy="491.50" rx="3.3" ry="3.2" fill="#1e1e1e"/>
<ellipse cx="376.50" cy="491.50" rx="3.3" ry="3.2" fill="#1e1e1e"/>
<ellipse cx="394.70" cy="491.50" rx="3.3" ry="3.2" fill="#1e1e1e"/>
<ellipse cx="405.80" cy="491.50" rx="3.3" ry="3.2" fill="#1e1e1e"/>
<ellipse cx="422.60" cy="491.50" rx="3.3" ry="3.2" fill="#1e1e1e"/>
<ellipse cx="486.70" cy="491.80" rx="3.3" ry="3.2" fill="#1e1e1e"/>
<ellipse cx="500.60" cy="491.80" rx="3.3" ry="3.2" fill="#1e1e1e"/>
<polyline points="129.00,641.00 129.00,641.25 131.00,641.25 131.00,641.50 131.00,642.50 140.40,642.50 140.40,643.50 140.40,644.65 148.00,644.65 148.00,645.80 148.00,647.35 155.80,647.35 155.80,648.90 155.80,650.45 163.50,650.45 163.50,652.00 163.50,653.50 171.20,653.50 171.20,655.00 171.20,656.60 178.80,656.60 178.80,658.20 178.80,659.70 186.50,659.70 186.50,661.20 186.50,662.75 194.20,662.75 194.20,664.30 194.20,665.40 201.00,665.40 201.00,666.50 201.00,667.95 209.60,667.95 209.60,669.40" fill="none" stroke="#3d3d3d" stroke-width="2.8" stroke-linejoin="miter" stroke-linecap="butt"/>
<ellipse cx="199.40" cy="667.00" rx="3.3" ry="3.2" fill="#3d3d3d"/>
<polyline points="211.00,669.80 257.70,680.20 276.90,684.50 288.00,686.80 296.00,688.20" fill="none" stroke="#3d3d3d" stroke-width="6.0" stroke-linejoin="round" stroke-linecap="round"/>
<polyline points="296.00,688.20 307.00,688.50 313.00,690.00 333.50,692.40 368.00,693.60 375.80,695.50 383.50,698.80 391.20,701.70 399.20,705.00 454.70,705.50 457.00,708.00 470.80,708.50 473.00,711.50 487.00,711.80 489.00,714.00 502.00,714.00" fill="none" stroke="#3d3d3d" stroke-width="7.0" stroke-linejoin="round" stroke-linecap="round"/>
<rect x="500" y="710.5" width="5.5" height="7" fill="#3d3d3d"/>
<polyline points="129.00,641.00 129.00,642.65 134.20,642.65 134.20,644.30 134.20,645.85 141.90,645.85 141.90,647.40 141.90,648.95 148.10,648.95 148.10,650.50 148.10,652.00 152.70,652.00 152.70,653.50 152.70,655.85 155.80,655.85 155.80,658.20 155.80,659.73 158.10,659.73 158.10,662.77 160.40,662.77 160.40,664.30 160.40,665.85 163.50,665.85 163.50,667.40 163.50,669.70 166.50,669.70 166.50,672.00 166.50,674.30 169.60,674.30 169.60,676.60 169.60,678.15 174.20,678.15 174.20,679.70 174.20,681.25 178.80,681.25 178.80,682.80 178.80,683.95 182.65,683.95 182.65,686.25 186.50,686.25 186.50,687.40 186.50,688.55 190.35,688.55 190.35,690.85 194.20,690.85 194.20,692.00 194.20,693.55 198.80,693.55 198.80,695.10 198.80,696.65 201.90,696.65 201.90,698.20 201.90,699.90 204.80,699.90 204.80,703.30 207.70,703.30 207.70,705.00 207.70,706.20 210.60,706.20 210.60,708.60 213.50,708.60 213.50,709.80 213.50,711.00 216.35,711.00 216.35,713.40 219.20,713.40 219.20,714.60 219.20,715.55 223.10,715.55 223.10,716.50 223.10,717.50 238.50,717.50 238.50,718.50 238.50,720.40 240.40,720.40 240.40,722.30 240.40,723.72 245.20,723.72 245.20,726.58 250.00,726.58 250.00,728.00 250.00,729.95 257.70,729.95 257.70,731.90 257.70,733.35 261.50,733.35 261.50,734.80 261.50,736.00 278.85,736.00 278.85,738.40 296.20,738.40 296.20,739.60 296.20,740.80 300.80,740.80 300.80,742.00 300.80,743.50 306.50,743.50 306.50,745.00 306.50,745.50 316.20,745.50 316.20,746.00 316.20,747.40 323.80,747.40 323.80,748.80 323.80,749.90 350.00,749.90 350.00,751.00 350.00,751.75 375.80,751.75 375.80,752.50 375.80,753.20 382.50,753.20 382.50,753.90 401.50,753.90 401.50,754.70 410.80,754.70 410.80,755.50 410.80,757.00 429.30,757.00 429.30,758.50 429.30,760.80 431.60,760.80 431.60,763.10 431.60,765.80 433.90,765.80 433.90,768.50 459.30,768.50 459.30,771.20 503.20,771.20 503.20,773.10 503.60,773.10 503.60,775.00" fill="none" stroke="#3d3d3d" stroke-width="2.8" stroke-linejoin="miter" stroke-linecap="butt"/>
<ellipse cx="300.80" cy="742.30" rx="3.3" ry="3.2" fill="#3d3d3d"/>
<ellipse cx="316.20" cy="746.20" rx="3.3" ry="3.2" fill="#3d3d3d"/>
<ellipse cx="213.50" cy="709.80" rx="3.3" ry="3.2" fill="#3d3d3d"/>
<ellipse cx="223.10" cy="716.50" rx="3.3" ry="3.2" fill="#3d3d3d"/>
<ellipse cx="229.00" cy="717.80" rx="3.3" ry="3.2" fill="#3d3d3d"/>
<ellipse cx="235.00" cy="718.20" rx="3.3" ry="3.2" fill="#3d3d3d"/>
<ellipse cx="250.00" cy="728.50" rx="3.3" ry="3.2" fill="#3d3d3d"/>
<ellipse cx="255.00" cy="730.50" rx="3.3" ry="3.2" fill="#3d3d3d"/>
<ellipse cx="382.50" cy="754.30" rx="3.3" ry="3.2" fill="#3d3d3d"/>
<ellipse cx="401.50" cy="753.90" rx="3.3" ry="3.2" fill="#3d3d3d"/>
<polyline points="267.00,735.50 296.20,739.60" fill="none" stroke="#3d3d3d" stroke-width="5.0" stroke-linejoin="round" stroke-linecap="round"/>
<polyline points="330.00,750.00 376.00,752.50" fill="none" stroke="#3d3d3d" stroke-width="7.5" stroke-linejoin="round" stroke-linecap="round"/>
<polygon points="338.70,748.50 340.00,743.00 341.30,748.50" fill="#3d3d3d"/>
<polygon points="341.70,748.50 343.00,743.00 344.30,748.50" fill="#3d3d3d"/>
<polygon points="344.70,748.50 346.00,743.00 347.30,748.50" fill="#3d3d3d"/>
<polygon points="348.70,748.50 350.00,743.00 351.30,748.50" fill="#3d3d3d"/>
<polygon points="370.70,748.50 372.00,743.00 373.30,748.50" fill="#3d3d3d"/>
<polyline points="410.80,757.50 429.30,759.70" fill="none" stroke="#3d3d3d" stroke-width="5.5" stroke-linejoin="round" stroke-linecap="round"/>
<polyline points="443.00,768.30 459.30,768.30" fill="none" stroke="#3d3d3d" stroke-width="5.5" stroke-linejoin="round" stroke-linecap="round"/>
<polyline points="461.00,771.20 489.30,771.20" fill="none" stroke="#3d3d3d" stroke-width="5.5" stroke-linejoin="round" stroke-linecap="round"/>
<polyline points="129.00,641.00 129.00,643.40 132.70,643.40 132.70,645.80 132.70,647.35 135.00,647.35 135.00,650.45 137.30,650.45 137.30,652.00 137.30,655.10 140.40,655.10 140.40,658.20 140.40,660.50 143.50,660.50 143.50,662.80 143.50,664.32 145.80,664.32 145.80,667.38 148.10,667.38 148.10,668.90 148.10,670.45 151.20,670.45 151.20,672.00 151.20,673.55 154.20,673.55 154.20,675.10 154.20,676.65 157.30,676.65 157.30,678.20 157.30,680.50 160.40,680.50 160.40,682.80 160.40,685.85 163.50,685.85 163.50,688.90 163.50,690.45 166.50,690.45 166.50,692.00 166.50,692.75 169.60,692.75 169.60,693.50 169.60,695.85 172.70,695.85 172.70,698.20 172.70,699.70 175.80,699.70 175.80,701.20 175.80,703.50 178.80,703.50 178.80,705.80 178.80,708.90 180.40,708.90 180.40,712.00 180.40,713.25 182.70,713.25 182.70,715.75 185.00,715.75 185.00,717.00 185.00,718.38 187.50,718.38 187.50,721.12 190.00,721.12 190.00,722.50 190.00,723.75 193.75,723.75 193.75,726.25 197.50,726.25 197.50,727.50 197.50,727.80 200.00,727.80 200.00,728.10 200.00,730.95 203.80,730.95 203.80,733.80 203.80,736.25 207.70,736.25 207.70,738.70 207.70,739.65 219.20,739.65 219.20,740.60 219.20,742.50 223.10,742.50 223.10,744.40 223.10,745.60 225.50,745.60 225.50,748.00 227.90,748.00 227.90,749.20 238.50,749.20 238.50,750.20 246.20,750.20 246.20,751.20 246.20,752.10 257.70,752.10 257.70,753.00 257.70,755.90 261.50,755.90 261.50,758.80 271.20,758.80 271.20,759.80 280.80,759.80 280.80,760.80 280.80,761.25 286.50,761.25 286.50,761.70 286.50,762.50 295.00,762.50 295.00,763.30 295.00,764.75 300.80,764.75 300.80,766.20 300.80,766.65 319.00,766.65 319.00,767.10 319.00,769.05 325.80,769.05 325.80,771.00 325.80,772.20 330.60,772.20 330.60,774.60 335.40,774.60 335.40,775.80 335.40,776.25 346.90,776.25 346.90,776.70 346.90,778.15 355.60,778.15 355.60,779.60 371.00,779.60 371.00,780.10 383.50,780.10 383.50,780.60 383.50,780.55 390.00,780.55 390.00,780.50 390.00,781.62 394.60,781.62 394.60,783.88 399.20,783.88 399.20,785.00 399.20,786.20 406.20,786.20 406.20,787.40 406.20,787.50 504.50,787.50 504.50,787.60" fill="none" stroke="#3d3d3d" stroke-width="2.8" stroke-linejoin="miter" stroke-linecap="butt"/>
<ellipse cx="227.90" cy="749.20" rx="3.3" ry="3.2" fill="#3d3d3d"/>
<ellipse cx="246.20" cy="751.20" rx="3.3" ry="3.2" fill="#3d3d3d"/>
<ellipse cx="251.00" cy="752.00" rx="3.3" ry="3.2" fill="#3d3d3d"/>
<ellipse cx="257.70" cy="753.00" rx="3.3" ry="3.2" fill="#3d3d3d"/>
<ellipse cx="271.20" cy="758.80" rx="3.3" ry="3.2" fill="#3d3d3d"/>
<ellipse cx="286.50" cy="761.70" rx="3.3" ry="3.2" fill="#3d3d3d"/>
<ellipse cx="319.00" cy="767.10" rx="3.3" ry="3.2" fill="#3d3d3d"/>
<ellipse cx="335.70" cy="776.50" rx="3.3" ry="3.2" fill="#3d3d3d"/>
<ellipse cx="355.60" cy="779.60" rx="3.3" ry="3.2" fill="#3d3d3d"/>
<ellipse cx="371.00" cy="779.60" rx="3.3" ry="3.2" fill="#3d3d3d"/>
<ellipse cx="399.20" cy="785.00" rx="3.3" ry="3.2" fill="#3d3d3d"/>
<ellipse cx="433.90" cy="787.40" rx="3.3" ry="3.2" fill="#3d3d3d"/>
<ellipse cx="443.00" cy="787.40" rx="3.3" ry="3.2" fill="#3d3d3d"/>
<ellipse cx="448.00" cy="787.40" rx="3.3" ry="3.2" fill="#3d3d3d"/>
<ellipse cx="457.00" cy="787.40" rx="3.3" ry="3.2" fill="#3d3d3d"/>
<ellipse cx="475.40" cy="787.40" rx="3.3" ry="3.2" fill="#3d3d3d"/>
<ellipse cx="483.50" cy="787.40" rx="3.3" ry="3.2" fill="#3d3d3d"/>
<ellipse cx="491.50" cy="787.40" rx="3.3" ry="3.2" fill="#3d3d3d"/>
<ellipse cx="497.00" cy="787.40" rx="3.3" ry="3.2" fill="#3d3d3d"/>
<ellipse cx="501.80" cy="792.50" rx="3.3" ry="3.2" fill="#3d3d3d"/>
<polyline points="410.80,787.40 429.30,787.40" fill="none" stroke="#3d3d3d" stroke-width="5.5" stroke-linejoin="round" stroke-linecap="round"/>
<polyline points="129.00,641.00 129.00,643.40 129.60,643.40 129.60,645.80 129.60,650.45 132.70,650.45 132.70,655.10 132.70,658.15 135.80,658.15 135.80,661.20 135.80,664.30 138.80,664.30 138.80,667.40 138.80,671.25 140.40,671.25 140.40,675.10 140.40,678.15 141.90,678.15 141.90,681.20 141.90,681.35 145.00,681.35 145.00,681.50 145.00,683.65 146.50,683.65 146.50,685.80 146.50,688.90 148.10,688.90 148.10,692.00 148.10,695.85 149.60,695.85 149.60,699.70 149.60,703.55 151.20,703.55 151.20,707.40 151.20,711.20 152.50,711.20 152.50,715.00 152.50,716.88 155.00,716.88 155.00,720.62 157.50,720.62 157.50,722.50 157.50,723.75 161.25,723.75 161.25,726.25 165.00,726.25 165.00,727.50 165.00,729.38 167.50,729.38 167.50,733.12 170.00,733.12 170.00,735.00 170.00,738.75 172.50,738.75 172.50,742.50 172.50,747.50 175.00,747.50 175.00,752.50 175.00,755.00 177.50,755.00 177.50,760.00 180.00,760.00 180.00,762.50 180.00,763.75 190.00,763.75 190.00,765.00 190.00,765.30 200.00,765.30 200.00,765.60 200.00,767.27 204.80,767.27 204.80,770.62 209.60,770.62 209.60,772.30 209.60,773.75 215.40,773.75 215.40,775.20 215.40,776.65 221.20,776.65 221.20,778.10 221.20,779.55 228.80,779.55 228.80,781.00 246.20,781.00 246.20,783.85 248.10,783.85 248.10,786.70 248.10,787.20 252.90,787.20 252.90,787.70 252.90,789.15 257.70,789.15 257.70,790.60 257.70,791.05 278.80,791.05 278.80,791.50 278.80,792.95 280.80,792.95 280.80,794.40 280.80,794.90 300.00,794.90 300.00,795.40 314.20,795.40 314.20,796.70 316.20,796.70 316.20,798.00 316.20,798.40 341.20,798.40 341.20,798.80 341.20,801.00 342.10,801.00 342.10,803.20 342.10,803.40 430.40,803.40 430.40,803.60 430.40,807.05 431.60,807.05 431.60,810.50 504.30,810.50" fill="none" stroke="#1e1e1e" stroke-width="2.8" stroke-linejoin="miter" stroke-linecap="butt"/>
<ellipse cx="228.80" cy="781.00" rx="3.3" ry="3.2" fill="#1e1e1e"/>
<ellipse cx="252.90" cy="787.70" rx="3.3" ry="3.2" fill="#1e1e1e"/>
<ellipse cx="299.80" cy="796.00" rx="3.3" ry="3.2" fill="#1e1e1e"/>
<ellipse cx="321.00" cy="799.50" rx="3.3" ry="3.2" fill="#1e1e1e"/>
<ellipse cx="352.70" cy="803.50" rx="3.3" ry="3.2" fill="#1e1e1e"/>
<ellipse cx="361.30" cy="803.50" rx="3.3" ry="3.2" fill="#1e1e1e"/>
<ellipse cx="389.20" cy="803.60" rx="3.3" ry="3.2" fill="#1e1e1e"/>
<ellipse cx="424.60" cy="803.60" rx="3.3" ry="3.2" fill="#1e1e1e"/>
<ellipse cx="450.00" cy="810.50" rx="3.3" ry="3.2" fill="#1e1e1e"/>
<ellipse cx="461.60" cy="810.50" rx="3.3" ry="3.2" fill="#1e1e1e"/>
<ellipse cx="120.50" cy="16.50" rx="3.3" ry="3.2" fill="#3d3d3d"/>
<ellipse cx="124.00" cy="18.20" rx="3.3" ry="3.2" fill="#3d3d3d"/>
<ellipse cx="123.80" cy="328.00" rx="2.8" ry="2.6" fill="#3d3d3d"/>
<ellipse cx="133.00" cy="328.00" rx="2.8" ry="2.6" fill="#3d3d3d"/>
<ellipse cx="132.00" cy="642.00" rx="3.3" ry="3.2" fill="#3d3d3d"/>
<ellipse cx="137.00" cy="643.00" rx="3.3" ry="3.2" fill="#3d3d3d"/>
<line x1="130.00" y1="642.50" x2="140.00" y2="642.50" stroke="#3d3d3d" stroke-width="5.0" stroke-linecap="round"/>
<polygon points="309.40,362.50 310.30,353.50 311.20,362.50" fill="#3d3d3d"/>
<polygon points="390.70,452.00 391.60,445.00 392.50,452.00" fill="#3d3d3d"/>
</svg></body></html>
